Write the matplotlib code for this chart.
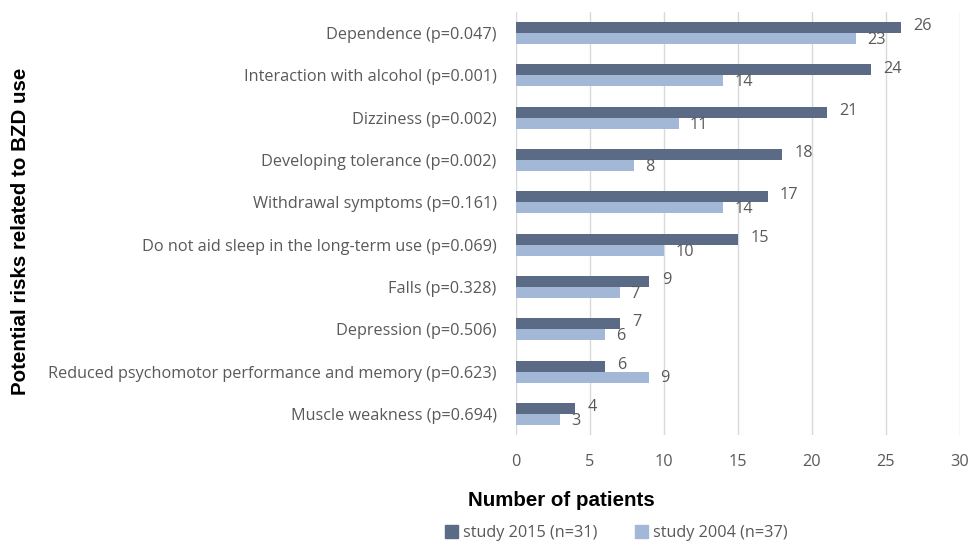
import matplotlib.pyplot as plt
from matplotlib.patches import Patch

## data
risks = ['Dependence (p=0.047)',
         'Interaction with alcohol (p=0.001)',
         'Dizziness (p=0.002)',
         'Developing tolerance (p=0.002)',
         'Withdrawal symptoms (p=0.161)',
         'Do not aid sleep in the long-term use (p=0.069)',
         'Falls (p=0.328)',
         'Depression (p=0.506)',
         'Reduced psychomotor performance and memory (p=0.623)',
         'Muscle weakness (p=0.694)']
study_2015 = [26, 24, 21, 18, 17, 15, 9, 7, 6, 4]
study_2004 = [23, 14, 11, 8, 14, 10, 7, 6, 9, 3]
xticks = [0, 5, 10, 15, 20, 25, 30]

dark = '#5b6b85'
light = '#a3b8d6'
grey = '#595959'
fs = 11.7

fig = plt.figure(figsize=(9.69, 5.44), dpi=100)
ax = fig.add_axes([0.5325, 0.2004, 0.4582, 0.7776])

h = 0.26
pos = list(range(len(risks)))
ax.barh([p - h/2 for p in pos], study_2015, height=h, color=dark, zorder=3)
ax.barh([p + h/2 for p in pos], study_2004, height=h, color=light, zorder=3)

for p, v in zip(pos, study_2015):
    ax.annotate(str(v), (v, p - h/2), xytext=(9, 1), textcoords='offset points',
                va='center', ha='left', fontsize=fs, color=grey, family='Open Sans')
for p, v in zip(pos, study_2004):
    ax.annotate(str(v), (v, p + h/2), xytext=(8, -1), textcoords='offset points',
                va='center', ha='left', fontsize=fs, color=grey, family='Open Sans')

ax.set_ylim(len(risks) - 0.5, -0.5)
ax.set_xlim(0, 30)
ax.set_yticks(pos)
ax.set_yticklabels(risks, fontsize=fs, color=grey, family='Open Sans')
ax.set_xticks(xticks)
ax.set_xticklabels([str(t) for t in xticks], fontsize=fs, color=grey, family='Open Sans')
ax.tick_params(length=0, pad=14, axis='y')
ax.tick_params(length=0, pad=14, axis='x')
ax.grid(axis='x', color='#d9d9d9', lw=1, zorder=0)
for s in ax.spines.values():
    s.set_visible(False)

fig.text(0.579, 0.08, 'Number of patients', ha='center', va='center',
         fontsize=14.8, fontweight='bold', family='Liberation Sans')
fig.text(0.021, 0.575, 'Potential risks related to BZD use', ha='center', va='center',
         rotation=90, fontsize=14.8, fontweight='bold', family='Liberation Sans')

handles = [Patch(color=dark), Patch(color=light)]
fig.legend(handles, ['study 2015 (n=31)', 'study 2004 (n=37)'], loc='center',
           bbox_to_anchor=(0.636, 0.02), ncol=2, frameon=False,
           prop={'family': 'Open Sans', 'size': fs}, labelcolor=grey,
           handlelength=0.8, handleheight=0.8, handletextpad=0.3, columnspacing=2.3)

fig.savefig('out.png', dpi=100)
